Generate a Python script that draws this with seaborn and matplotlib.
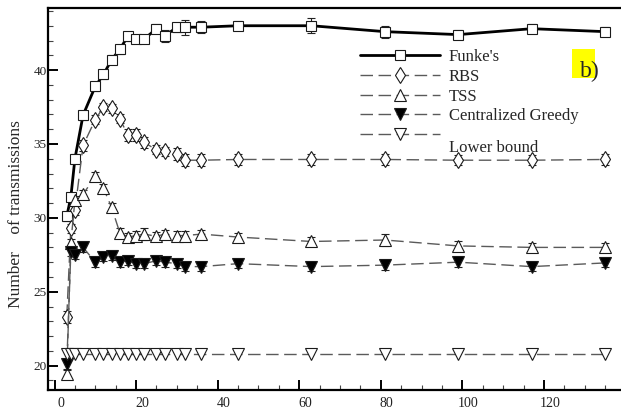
import matplotlib
matplotlib.use("Agg")
import matplotlib.pyplot as plt
import matplotlib.transforms as mtransforms
from matplotlib.patches import Rectangle
from matplotlib.ticker import MultipleLocator
import seaborn as sns

# number of nodes (x) shared by all series
x_vals = [3, 4, 5, 7, 10, 12, 14, 16, 18, 20, 22, 25, 27, 30, 32, 36, 45, 63, 81, 99, 117, 135]

funke = [30.1, 31.4, 34.0, 36.95, 38.9, 39.7, 40.7, 41.4, 42.3, 42.1, 42.1, 42.8, 42.3, 42.9, 42.9, 42.9,
         43.0, 43.0, 42.6, 42.4, 42.8, 42.6]
funke_err = [0.3, 0.3, 0.3, 0.3, 0.3, 0.3, 0.3, 0.3, 0.3, 0.3, 0.3, 0.3, 0.4, 0.3, 0.5, 0.4,
             0.3, 0.5, 0.4, 0.3, 0.3, 0.3]

rbs = [23.3, 29.3, 30.5, 34.9, 36.65, 37.5, 37.4, 36.7, 35.6, 35.6, 35.1, 34.6, 34.5, 34.3, 33.9, 33.9,
       33.95, 33.95, 33.95, 33.9, 33.9, 33.95]
rbs_err = [0.4, 0.3, 0.3, 0.4, 0.3, 0.3, 0.3, 0.3, 0.4, 0.4, 0.4, 0.3, 0.3, 0.4, 0.4, 0.4,
           0.35, 0.35, 0.35, 0.35, 0.35, 0.35]

tss = [19.4, 28.3, 31.2, 31.6, 32.8, 32.0, 30.7, 29.0, 28.7, 28.8, 28.9, 28.75, 28.9, 28.8, 28.8, 28.9,
       28.7, 28.4, 28.5, 28.1, 28.0, 28.0]
tss_err = [0.3, 0.3, 0.3, 0.3, 0.3, 0.3, 0.3, 0.3, 0.3, 0.3, 0.4, 0.3, 0.3, 0.3, 0.3, 0.3,
           0.3, 0.3, 0.4, 0.3, 0.3, 0.3]

greedy = [20.1, 27.7, 27.5, 28.0, 27.0, 27.35, 27.45, 27.0, 27.1, 26.9, 26.9, 27.1, 27.0, 26.9, 26.7, 26.7,
          26.9, 26.7, 26.8, 27.0, 26.7, 26.95]
greedy_err = [0.3, 0.3, 0.3, 0.3, 0.3, 0.3, 0.3, 0.3, 0.3, 0.3, 0.3, 0.3, 0.3, 0.3, 0.3, 0.3,
              0.3, 0.3, 0.3, 0.3, 0.3, 0.3]

lower = [20.8] * len(x_vals)

x_ticks = [0, 20, 40, 60, 80, 100, 120]
y_ticks = [20, 25, 30, 35, 40]

sns.set_theme(style="ticks")
plt.rcParams["font.family"] = ["Liberation Serif", "DejaVu Serif"]

fig = plt.figure(figsize=(6.21, 4.11), dpi=100)
ax = fig.add_axes([48 / 621, 21 / 411, 573 / 621, 382 / 411])

gray = "#5a5a5a"
series = [
    # label, y, err, marker, size, face, line color, lw, dashes
    ("Funke's", funke, funke_err, "s", 7.5, "white", "black", 2.0, None),
    ("RBS", rbs, rbs_err, "d", 8.5, "white", gray, 1.0, (9, 4)),
    ("TSS", tss, tss_err, "^", 8.5, "white", gray, 1.0, (9, 4)),
    ("Centralized Greedy", greedy, greedy_err, "v", 8.5, "black", gray, 1.0, (9, 4)),
    ("Lower bound", lower, None, "v", 8.5, "white", gray, 1.0, (9, 4)),
]

for label, ys, err, mk, ms, face, lc, lw, dash in series:
    if err is not None:
        ax.errorbar(x_vals, ys, yerr=err, fmt="none", ecolor="#222222", elinewidth=0.8,
                    capsize=3, capthick=0.8, zorder=2)
    sns.lineplot(x=x_vals, y=ys, ax=ax, estimator=None, errorbar=None, label=label,
                 color=lc, linewidth=lw, marker=mk, markersize=ms,
                 markerfacecolor=face, markeredgecolor="#1a1a1a", markeredgewidth=0.8,
                 zorder=3)
    if dash is not None:
        ax.lines[-1].set_dashes(dash)

ax.set_xlim(-1.6, 138.9)
ax.set_ylim(18.35, 44.2)
ax.set_xticks(x_ticks)
ax.set_yticks(y_ticks)
ax.xaxis.set_minor_locator(MultipleLocator(5))
ax.yaxis.set_minor_locator(MultipleLocator(1))
ax.tick_params(axis="both", which="major", direction="in", length=7, width=1.4, colors="black")
ax.tick_params(axis="both", which="minor", direction="in", length=3.5, width=0.8, colors="#444444")
ax.tick_params(axis="x", which="major", labelsize=10, pad=5, labelcolor="#222222")
ax.tick_params(axis="y", which="major", labelsize=9.5, pad=1, labelcolor="#222222")

# tick labels sit a little to the right of the tick marks in the original
shift = mtransforms.ScaledTranslation(6 / 100, 0, fig.dpi_scale_trans)
for lab in ax.get_xticklabels():
    lab.set_transform(lab.get_transform() + shift)

for side in ["left", "bottom", "top"]:
    ax.spines[side].set_linewidth(1.6)
    ax.spines[side].set_color("black")
ax.spines["right"].set_visible(False)

ax.set_xlabel("")
ax.set_ylabel("Number    of transmissions", fontsize=12.5)
ax.yaxis.set_label_coords(-0.042, 0.46)

leg = ax.legend(loc="upper left", bbox_to_anchor=(0.545, 0.892), frameon=False, fontsize=12,
                handlelength=4.8, handletextpad=0.5, labelspacing=0.22, borderpad=0,
                borderaxespad=0)
# the "Lower bound" text hangs below its legend line in the original
lb = leg.get_texts()[-1]
lb.set_transform(lb.get_transform() + mtransforms.ScaledTranslation(0, -12 / 100, fig.dpi_scale_trans))

# "b)" panel tag with yellow highlight behind the b
fig.patches.append(Rectangle((572 / 621, 1 - 78 / 411), 23 / 621, 29 / 411,
                             transform=fig.transFigure, facecolor="#ffff00", edgecolor="none",
                             zorder=5))
fig.text(580 / 621, 1 - 77 / 411, "b)", fontsize=17, ha="left", va="baseline", zorder=6)

fig.savefig("out.png", dpi=100)
